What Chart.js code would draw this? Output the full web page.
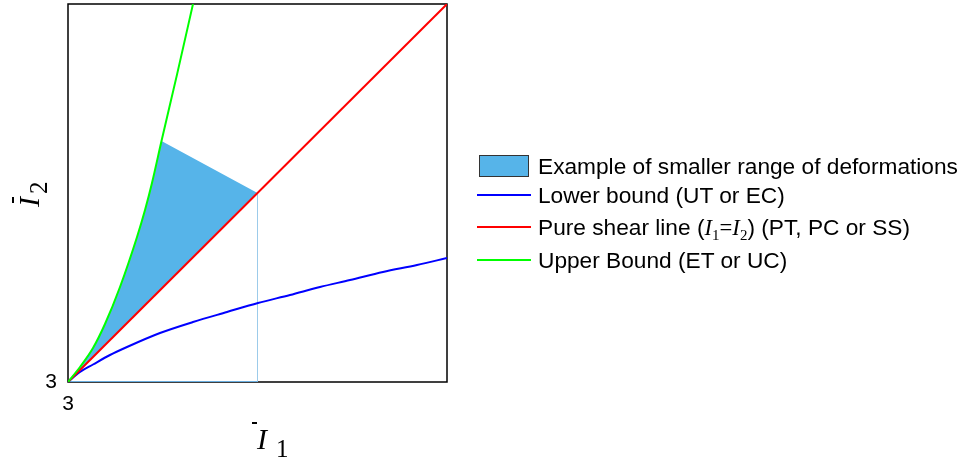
<!DOCTYPE html>
<html><head><meta charset="utf-8">
<script src="https://cdn.jsdelivr.net/npm/chart.js@4.4.0/dist/chart.umd.min.js"></script>
<style>
html,body{margin:0;padding:0;background:#fff;}
#wrap{position:relative;width:968px;height:463px;overflow:hidden;background:#fff;}
#c{position:absolute;left:0;top:0;}
.lg{position:absolute;left:538px;font-family:'Liberation Sans',Arial,sans-serif;font-size:22.7px;line-height:22px;color:#000;white-space:nowrap;}
.tm{font-family:'Liberation Serif','Times New Roman',serif;}
.it{font-style:italic;}
.sb{font-size:15px;position:relative;top:5px;}
.sw{position:absolute;left:477px;width:54px;height:2px;}
.ttl{position:absolute;width:60px;height:45px;}
.ttl .bar{position:absolute;height:2px;background:#000;}
.ttl .I{position:absolute;font-family:'Liberation Serif','Times New Roman',serif;font-style:italic;font-size:30px;line-height:30px;color:#000;}
.ttl .s{position:absolute;font-family:'Liberation Serif','Times New Roman',serif;font-size:25px;line-height:25px;color:#000;}
</style></head><body>
<div id="wrap">
<canvas id="c" width="968" height="463"></canvas>
<!-- legend -->
<div style="position:absolute;left:479px;top:155px;width:48px;height:20px;background:#56B4E9;border:1px solid #333;"></div>
<div class="lg" style="top:155.3px;">Example of smaller range of deformations</div>
<div class="sw" style="top:194px;background:#0000FF;"></div>
<div class="lg" style="top:184.3px;">Lower bound (UT or EC)</div>
<div class="sw" style="top:225.5px;background:#FF0000;"></div>
<div class="lg" style="top:215.8px;">Pure shear line (<span class="tm it">I</span><span class="tm sb">1</span><span class="tm">=</span><span class="tm it">I</span><span class="tm sb">2</span>) (PT, PC or SS)</div>
<div class="sw" style="top:258.5px;background:#00FF00;"></div>
<div class="lg" style="top:249.3px;">Upper Bound (ET or UC)</div>
<!-- x axis title -->
<div class="ttl" style="left:252px;top:418px;">
  <div class="bar" style="left:0;top:4px;width:5px;"></div>
  <span class="I" style="left:5px;top:6px;">I</span>
  <span class="s" style="left:24px;top:18px;">1</span>
</div>
<!-- y axis title -->
<div class="ttl" style="left:8px;top:206px;transform:rotate(-90deg);transform-origin:0 0;">
  <div class="bar" style="left:3px;top:4px;width:6px;"></div>
  <span class="I" style="left:-1px;top:6px;">I</span>
  <span class="s" style="left:12px;top:18px;">2</span>
</div>
</div>
<script>
// axis range and ticks
const axisMin = 3;
const axisMax = 13;
const xTickValues = [3];
const xTickLabels = ['3'];
const yTickValues = [3];
const yTickLabels = ['3'];

// Lower bound (UT or EC)
const lowerX = [3, 3.317, 3.660, 4.108, 4.557, 5.427, 6.298, 7.195, 8.013, 8.858, 9.649, 10.441, 11.311, 12.208, 13.0];
const lowerY = [3, 3.265, 3.463, 3.714, 3.926, 4.296, 4.587, 4.852, 5.090, 5.302, 5.513, 5.698, 5.910, 6.095, 6.280];

// Pure shear line
const shearX = [3, 13];
const shearY = [3, 13];

// Upper bound (ET or UC)
const upperX = [3, 3.317, 3.660, 3.976, 4.372, 4.821, 5.032, 5.216, 5.467, 5.876, 6.298];
const upperY = [3, 3.397, 3.899, 4.534, 5.513, 6.836, 7.550, 8.265, 9.376, 11.132, 13.0];

// Example region (closed polygon)
const regionX = [3, 3.317, 3.660, 3.976, 4.372, 4.821, 5.032, 5.216, 5.467, 8.0, 3];
const regionY = [3, 3.397, 3.899, 4.534, 5.513, 6.836, 7.550, 8.265, 9.376, 8.0, 3];

// Region guide lines
const baseX = [3, 8.0];
const baseY = [3, 3];
const vertX = [8.0, 8.0];
const vertY = [3, 8.0];

const pts = (xs, ys) => xs.map((x, i) => ({x: x, y: ys[i]}));

const framePlugin = {
  id: 'frame',
  beforeDatasetsDraw(chart) {
    const a = chart.chartArea, ctx = chart.ctx;
    ctx.save();
    ctx.strokeStyle = '#000';
    ctx.lineWidth = 1.5;
    ctx.strokeRect(a.left, a.top, a.right - a.left, a.bottom - a.top);
    ctx.restore();
  }
};

const noPad = s => { s.paddingTop = 0; s.paddingBottom = 0; s.paddingLeft = 0; s.paddingRight = 0; };

new Chart(document.getElementById('c'), {
  type: 'line',
  data: {
    datasets: [
      {label: 'Example of smaller range of deformations', data: pts(regionX, regionY), borderWidth: 0, borderColor: 'rgba(0,0,0,0)', backgroundColor: '#56B4E9', fill: 'shape', tension: 0, pointRadius: 0, order: 10},
      {label: 'base', data: pts(baseX, baseY), borderColor: '#6AAEE0', borderWidth: 2, fill: false, pointRadius: 0, order: 6},
      {label: 'vert', data: pts(vertX, vertY), borderColor: '#9CCBEA', borderWidth: 1, fill: false, pointRadius: 0, order: 6},
      {label: 'Lower bound (UT or EC)', data: pts(lowerX, lowerY), borderColor: '#0000FF', borderWidth: 2, fill: false, pointRadius: 0, cubicInterpolationMode: 'monotone', order: 3},
      {label: 'Pure shear line (I1=I2) (PT, PC or SS)', data: pts(shearX, shearY), borderColor: '#FF0000', borderWidth: 2, fill: false, pointRadius: 0, order: 2},
      {label: 'Upper Bound (ET or UC)', data: pts(upperX, upperY), borderColor: '#00FF00', borderWidth: 2, fill: false, pointRadius: 0, cubicInterpolationMode: 'monotone', order: 1}
    ]
  },
  options: {
    responsive: false,
    animation: false,
    devicePixelRatio: 1,
    layout: {padding: {left: 0, right: 521, top: 4, bottom: 0}},
    plugins: {legend: {display: false}, tooltip: {enabled: false}},
    scales: {
      x: {
        type: 'linear', min: axisMin, max: axisMax,
        grid: {display: false, drawTicks: false}, border: {display: false},
        afterBuildTicks: s => { s.ticks = xTickValues.map(v => ({value: v})); },
        afterFit: s => { s.height = 81; noPad(s); },
        ticks: {callback: (v, i) => xTickLabels[i], font: {family: 'Liberation Sans', size: 21}, color: '#000', padding: 10, maxRotation: 0, autoSkip: false}
      },
      y: {
        type: 'linear', min: axisMin, max: axisMax,
        grid: {display: false, drawTicks: false}, border: {display: false},
        afterBuildTicks: s => { s.ticks = yTickValues.map(v => ({value: v})); },
        afterFit: s => { s.width = 68; noPad(s); },
        ticks: {callback: (v, i) => yTickLabels[i], font: {family: 'Liberation Sans', size: 21}, color: '#000', padding: 11, autoSkip: false}
      }
    }
  },
  plugins: [framePlugin]
});
</script>
</body></html>
